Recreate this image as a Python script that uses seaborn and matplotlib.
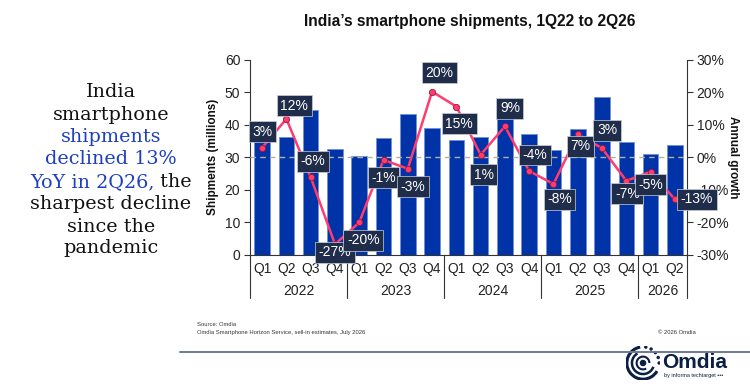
import matplotlib
matplotlib.use("Agg")
import matplotlib.pyplot as plt
import seaborn as sns
import pandas as pd
import numpy as np
from matplotlib.patches import Arc, Circle

# ---------------- data ----------------
quarters = ["Q1", "Q2", "Q3", "Q4", "Q1", "Q2", "Q3", "Q4", "Q1", "Q2", "Q3", "Q4",
            "Q1", "Q2", "Q3", "Q4", "Q1", "Q2"]
years = ["2022", "2023", "2024", "2025", "2026"]
year_counts = [4, 4, 4, 4, 2]
shipments = [38.0, 36.4, 44.6, 32.5, 30.5, 35.9, 43.3, 38.9, 35.4, 36.4, 47.2, 37.1,
             32.3, 38.8, 48.4, 34.6, 31.0, 33.7]
growth = [3.0, 11.8, -6.1, -26.7, -20.0, -0.8, -3.5, 20.2, 15.6, 0.8, 9.5, -4.2,
          -8.2, 7.1, 2.8, -7.2, -4.4, -12.9]
growth_labels = ["3%", "12%", "-6%", "-27%", "-20%", "-1%", "-3%", "20%", "15%", "1%",
                 "9%", "-4%", "-8%", "7%", "3%", "-7%", "-5%", "-13%"]
left_ticks = [0, 10, 20, 30, 40, 50, 60]
right_ticks = [-30, -20, -10, 0, 10, 20, 30]

# label offsets (pixels, x, y-up)
label_offsets = [(0, 16), (8, 13), (2, 16), (0, -8), (4, -18), (0, -18), (5, -18), (7, 19),
                 (3, -17), (3, -20), (5, 18), (6, 16), (6, -15), (3, -12), (5, 18), (1, -13),
                 (0, -13), (22, 0)]

sns.set_theme(style="white")
plt.rcParams['font.family'] = ['Liberation Sans', 'DejaVu Sans']

DPI = 100
fig = plt.figure(figsize=(7.5, 3.91), dpi=DPI)
W, H = 750, 391

def fx(x):
    return x / W

def fy(y):
    return 1 - y / H

ax = fig.add_axes([fx(250), fy(255), fx(687) - fx(250), fy(59.7) - fy(255)])

df = pd.DataFrame({"idx": np.arange(len(quarters)), "shipments": shipments})
BAR = "#0033A8"
sns.barplot(data=df, x="idx", y="shipments", ax=ax, color=BAR, width=0.64,
            edgecolor="#6f8fd6", linewidth=0.6, saturation=1, native_scale=False)
ax.set_xlim(-0.5, len(quarters) - 0.5)
ax.set_ylim(0, 60)
ax.set_yticks(left_ticks)
ax.set_yticklabels([str(t) for t in left_ticks], fontsize=10, color="#222222")
ax.set_ylabel("Shipments (millions)", fontsize=8.5, fontweight="bold", color="#111111", labelpad=4)
ax.set_xlabel("")
ax.set_xticks([])
for s in ["top", "right"]:
    ax.spines[s].set_visible(False)
ax.spines["left"].set_color("#333333")
ax.spines["bottom"].set_color("#333333")
ax.spines["left"].set_linewidth(0.8)
ax.spines["bottom"].set_linewidth(0.8)
ax.tick_params(axis="y", which="both", left=True, length=4, width=0.8, color="#333333", pad=3)

ax2 = ax.twinx()
ax2.set_ylim(-30, 30)
ax2.set_yticks(right_ticks)
ax2.set_yticklabels([f"{t}%" for t in right_ticks], fontsize=10, color="#222222")
for s in ["top", "left", "bottom"]:
    ax2.spines[s].set_visible(False)
ax2.spines["right"].set_color("#333333")
ax2.spines["right"].set_linewidth(0.8)
ax2.tick_params(axis="y", right=True, length=4, width=0.8, color="#333333", pad=3)
ax2.set_ylabel("Annual growth", fontsize=8.5, fontweight="bold", color="#111111",
               rotation=270, labelpad=-4)
ax2.yaxis.set_label_coords(1.12, 0.5)

# zero growth dashed line
ax2.axhline(0, color="#b5b0a0", linestyle=(0, (4, 3)), linewidth=1.0, zorder=1)

gdf = pd.DataFrame({"idx": np.arange(len(quarters)), "growth": growth})
sns.lineplot(data=gdf, x="idx", y="growth", ax=ax2, color="#FF3C6E", linewidth=1.8,
             marker="o", markersize=4.5, markerfacecolor="#FF3C6E",
             markeredgecolor="#9a1a3a", markeredgewidth=0.6, zorder=3)
ax2.set_xlabel("")
ax2.set_xlim(-0.5, len(quarters) - 0.5)

for i, (g, lab) in enumerate(zip(growth, growth_labels)):
    dx, dy = label_offsets[i]
    ax2.annotate(lab, xy=(i, g), xytext=(dx * 72 / DPI, dy * 72 / DPI),
                 textcoords="offset points", ha="center", va="center",
                 fontsize=10, color="white", zorder=5,
                 bbox=dict(boxstyle="square,pad=0.25", fc="#1F2D4A", ec="#c9d0dc", lw=0.5),
                 annotation_clip=False)

# two-level category axis
trans = ax.get_xaxis_transform()
for i, q in enumerate(quarters):
    ax.text(i, -0.07, q, transform=trans, ha="center", va="center", fontsize=10,
            color="#222222")
start = 0
bounds = [-0.5]
for y, c in zip(years, year_counts):
    ax.text(start + (c - 1) / 2, -0.185, y, transform=trans, ha="center", va="center",
            fontsize=10, color="#222222")
    start += c
    bounds.append(start - 0.5)
for b in bounds:
    ax.plot([b, b], [0, -0.22], transform=trans, color="#333333", lw=0.8, clip_on=False)

# title
fig.text(fx(469.7), fy(21.7), "India\u2019s smartphone shipments, 1Q22 to 2Q26", ha="center",
         va="center", fontsize=11.2, fontweight="bold", color="#111111")

# left narrative text
serif = ["DejaVu Serif"]
lines_y = [92.3, 115, 137, 159.3, 181.7, 204, 226.7, 248.3]
BLUE = "#1E3FC0"
fs = 13.8
fig.text(fx(111), fy(lines_y[0]), "India", ha="center", va="center", fontsize=fs, family=serif, color="#111111")
fig.text(fx(111), fy(lines_y[1]), "smartphone", ha="center", va="center", fontsize=fs, family=serif, color="#111111")
fig.text(fx(111), fy(lines_y[2]), "shipments", ha="center", va="center", fontsize=fs, family=serif, color=BLUE)
fig.text(fx(111), fy(lines_y[3]), "declined 13%", ha="center", va="center", fontsize=fs, family=serif, color=BLUE)
# mixed line
fig.canvas.draw()
r = fig.canvas.get_renderer()
t_full = fig.text(0, 0, "YoY in 2Q26, the", fontsize=fs, family=serif)
wf = t_full.get_window_extent(r).width
t_full.remove()
x0 = 111 - wf / 2
fig.text(fx(x0), fy(lines_y[4]), "YoY in 2Q26,", ha="left", va="center", fontsize=fs, family=serif, color=BLUE)
fig.text(fx(x0 + wf), fy(lines_y[4]), " the", ha="right", va="center", fontsize=fs, family=serif, color="#111111")
fig.text(fx(111), fy(lines_y[5]), "sharpest decline", ha="center", va="center", fontsize=fs, family=serif, color="#111111")
fig.text(fx(111), fy(lines_y[6]), "since the", ha="center", va="center", fontsize=fs, family=serif, color="#111111")
fig.text(fx(111), fy(lines_y[7]), "pandemic", ha="center", va="center", fontsize=fs, family=serif, color="#111111")

# footer
fig.text(fx(197), fy(324.5), "Source: Omdia", ha="left", va="center", fontsize=4.2, color="#333333")
fig.text(fx(197), fy(332.5), "Omdia Smartphone Horizon Service, sell-in estimates, July 2026",
         ha="left", va="center", fontsize=4.2, color="#333333")
fig.text(fx(696), fy(332.5), "\u00a9 2026 Omdia", ha="right", va="center", fontsize=4.2, color="#333333")
fig.add_artist(plt.Line2D([fx(180), fx(750)], [fy(352), fy(352)], color="#6c7a96", lw=1.4))

# logo
NAVY = "#0B1F45"
fig.text(fx(662), fy(362), "Omdia", ha="left", va="center", fontsize=15, fontweight="bold", color=NAVY)
fig.text(fx(664), fy(376), "by informa techtarget \u2022\u2022\u2022", ha="left", va="center", fontsize=4, color=NAVY)
lax = fig.add_axes([fx(626), fy(380), fx(660) - fx(626), fy(346) - fy(380)])
lax.set_xlim(-1, 1); lax.set_ylim(-1, 1); lax.set_aspect("equal"); lax.axis("off")
lax.add_patch(Arc((0, 0), 1.9, 1.9, theta1=100, theta2=330, color=NAVY, lw=2.2))
lax.add_patch(Arc((0, 0), 1.3, 1.3, theta1=120, theta2=340, color=NAVY, lw=1.8))
lax.add_patch(Arc((0, 0), 0.75, 0.75, theta1=0, theta2=300, color=NAVY, lw=1.5))
lax.add_patch(Circle((0, 0), 0.15, color=NAVY))
for a in np.linspace(0, 80, 5):
    lax.add_patch(Circle((0.95 * np.cos(np.radians(a)), 0.95 * np.sin(np.radians(a))), 0.06, color=NAVY))

fig.savefig("out.png", dpi=DPI, facecolor="white")
